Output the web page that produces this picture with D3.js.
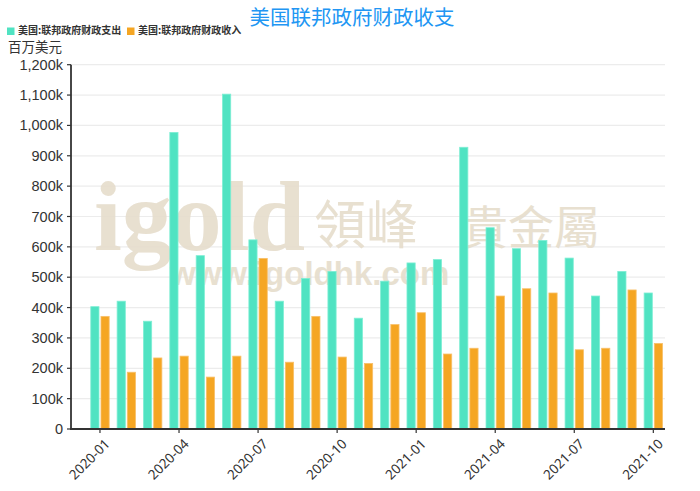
<!DOCTYPE html>
<html><head><meta charset="utf-8">
<script src="https://cdn.jsdelivr.net/npm/d3@7/dist/d3.min.js"></script>
<style>
html,body{margin:0;padding:0;background:#fff;}
svg{display:block;font-family:"Noto Sans CJK SC","Noto Sans",sans-serif;}
</style></head>
<body><svg id="c" width="700" height="491"></svg>
<script>
const months = ["2020-01","2020-02","2020-03","2020-04","2020-05","2020-06","2020-07","2020-08","2020-09","2020-10","2020-11","2020-12",
"2021-01","2021-02","2021-03","2021-04","2021-05","2021-06","2021-07","2021-08","2021-09","2021-10"];
const outlays = [403,421,355,977,571,1103,623,421,496,519,365,487,547,558,928,663,594,621,563,438,519,448];
const receipts = [371,187,234,240,171,240,562,220,371,237,216,344,383,247,266,438,462,448,261,266,458,282];
const yTicks = [0,100,200,300,400,500,600,700,800,900,1000,1100,1200];
const xTickLabels = ["2020-01","2020-04","2020-07","2020-10","2021-01","2021-04","2021-07","2021-10"];
const seriesNames = ["美国:联邦政府财政支出","美国:联邦政府财政收入"];
const colors = ["#50e3c2","#f5a623"];
const title = "美国联邦政府财政收支";
const unit = "百万美元";

const svg = d3.select("#c");
const axisX0 = 71, plotRight = 665, y0 = 429, yTop = 64.7;
const x = d3.scaleBand().domain(months).range([86.8, 666.5]).padding(0);
const y = d3.scaleLinear().domain([0,1200]).range([y0, yTop]);

// gridlines
svg.append("g").selectAll("line").data(yTicks.filter(d=>d>0)).join("line")
  .attr("x1", axisX0).attr("x2", plotRight)
  .attr("y1", d=>y(d)).attr("y2", d=>y(d))
  .attr("stroke","#ececec").attr("stroke-width",1.2);

// watermark
const wm = svg.append("g").attr("fill","#e6ddcc").attr("opacity",0.9);
wm.append("text").attr("x",94).attr("y",250).attr("font-family","Liberation Serif, serif")
  .attr("font-weight","bold").attr("font-size",100).text("igold");
wm.append("text").attr("x",314).attr("y",244).attr("font-family","Noto Sans CJK TC").attr("font-size",52).text("領峰");
wm.append("text").attr("x",462).attr("y",244).attr("font-family","Noto Sans CJK TC").attr("font-size",46).text("貴金屬");
wm.append("text").attr("x",170).attr("y",285).attr("font-family","Liberation Sans, sans-serif")
  .attr("font-weight","bold").attr("font-size",33).text("www.igoldhk.com");

// bars
const bw = 8.2;
const g = svg.append("g");
g.selectAll(".b0").data(months).join("rect")
  .attr("x", (d)=>x(d)+x.bandwidth()/2-9.2).attr("width",bw)
  .attr("y",(d,i)=>y(outlays[i])).attr("height",(d,i)=>y0-y(outlays[i]))
  .attr("fill",colors[0]).attr("stroke","#7eeed4").attr("stroke-width",0.8);
g.selectAll(".b1").data(months).join("rect")
  .attr("x", (d)=>x(d)+x.bandwidth()/2+1).attr("width",bw)
  .attr("y",(d,i)=>y(receipts[i])).attr("height",(d,i)=>y0-y(receipts[i]))
  .attr("fill",colors[1]).attr("stroke","#f8c06a").attr("stroke-width",0.8);

// y axis
svg.append("line").attr("x1",axisX0).attr("x2",axisX0).attr("y1",yTop).attr("y2",y0+1)
  .attr("stroke","#333").attr("stroke-width",1.8);
const yt = svg.append("g").selectAll("g").data(yTicks).join("g");
yt.append("line").attr("x1",axisX0-4).attr("x2",axisX0).attr("y1",d=>y(d)).attr("y2",d=>y(d)).attr("stroke","#333").attr("stroke-width",1.2);
yt.append("text").attr("x",63).attr("y",d=>y(d)).attr("dy","0.35em").attr("text-anchor","end")
  .attr("font-size",14.5).attr("fill","#333").attr("font-family","Liberation Sans, sans-serif")
  .text(d=> d===0 ? "0" : d3.format(",")(d)+"k");

// x axis
svg.append("line").attr("x1",axisX0-1).attr("x2",plotRight).attr("y1",y0).attr("y2",y0)
  .attr("stroke","#333").attr("stroke-width",1.8);
const xt = svg.append("g").selectAll("g").data(xTickLabels).join("g")
  .attr("transform",d=>`translate(${x(d)+x.bandwidth()/2},${y0})`);
xt.append("line").attr("y1",0).attr("y2",4).attr("stroke","#333").attr("stroke-width",1.2);
xt.append("text").attr("text-anchor","end").attr("font-size",13.5).attr("fill","#333")
  .attr("font-family","Noto Sans, sans-serif")
  .attr("transform","translate(4,9) rotate(-45)").attr("dy","0.7em").text(d=>d);

// title
svg.append("text").attr("x",352).attr("y",25).attr("text-anchor","middle").attr("font-size",20.5)
  .attr("fill","#2196f3").text(title);

// legend
const lg = svg.append("g");
const lx = [7, 127];
seriesNames.forEach((n,i)=>{
  lg.append("rect").attr("x",lx[i]).attr("y",27.5).attr("width",7.5).attr("height",7.5).attr("fill",colors[i]);
  lg.append("text").attr("x",lx[i]+11).attr("y",34).attr("font-size",10).attr("font-weight","bold")
    .attr("fill","#333").text(n);
});
svg.append("text").attr("x",8).attr("y",52).attr("font-size",13.5).attr("fill","#333").text(unit);
</script></body></html>
